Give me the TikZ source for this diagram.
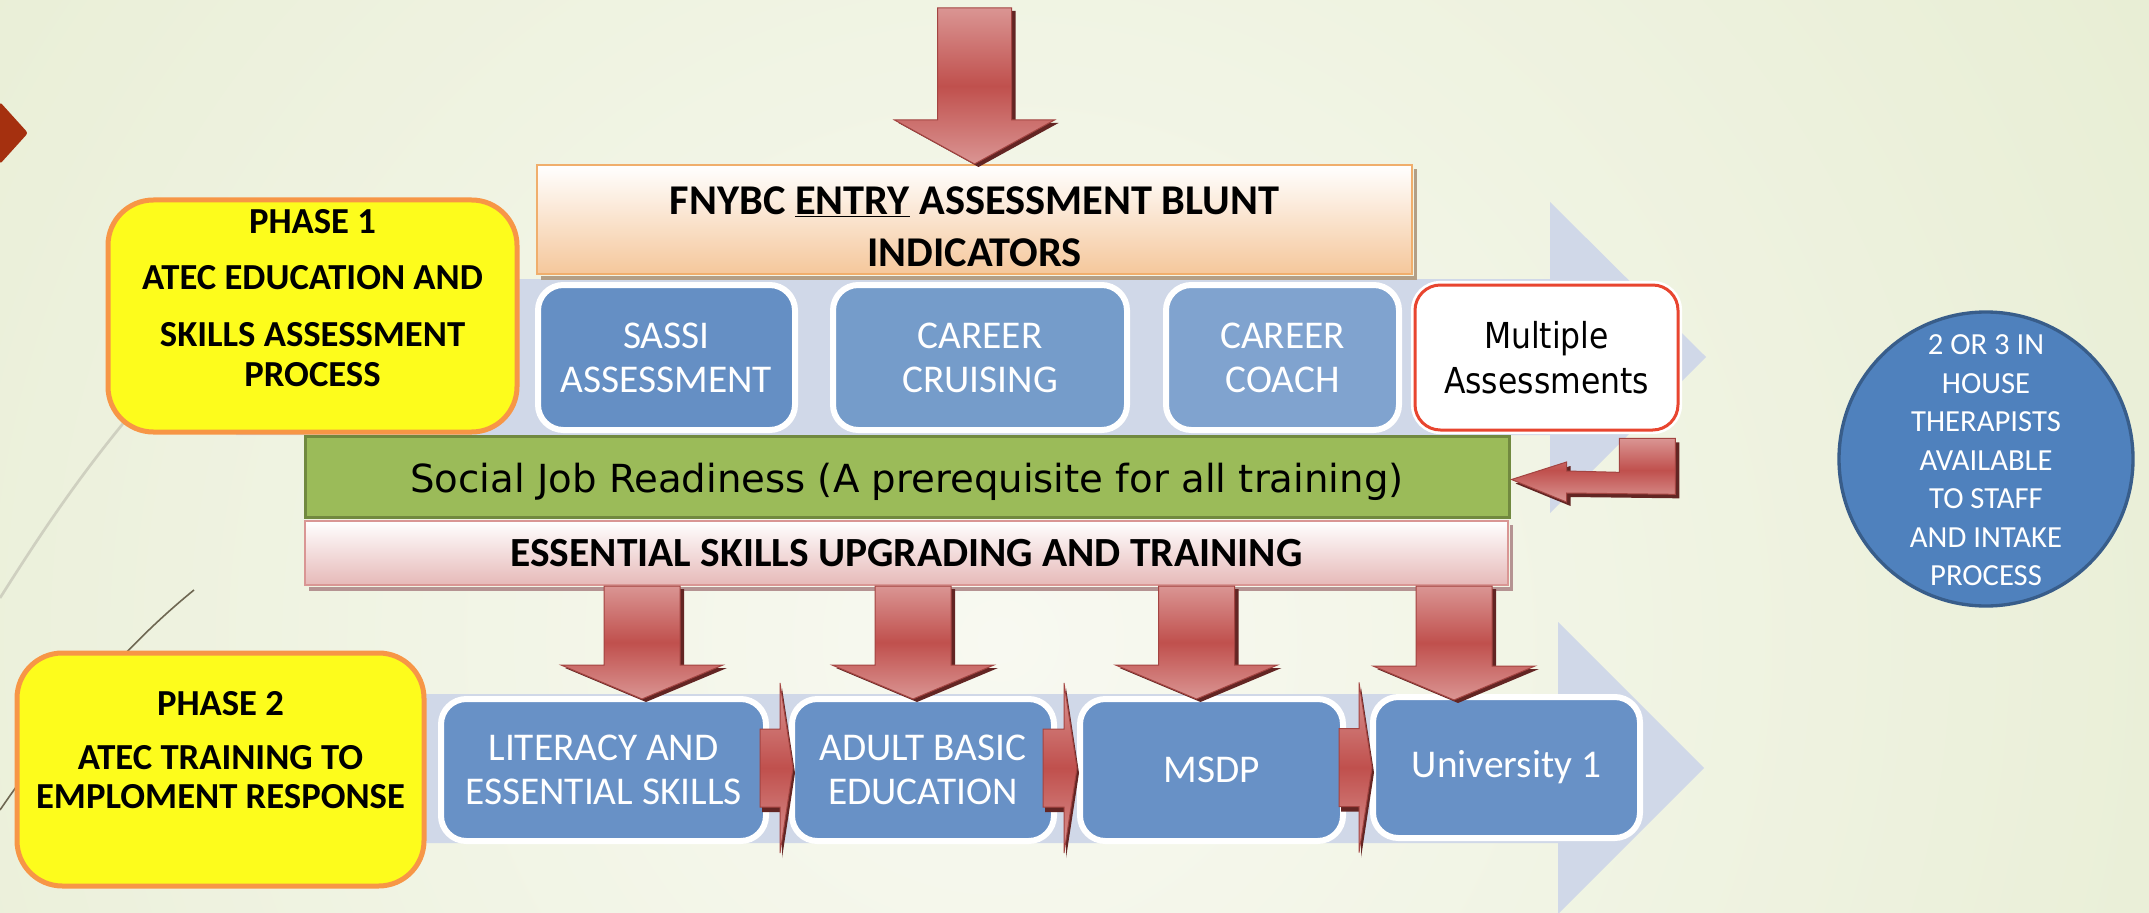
\documentclass[tikz,border=0pt]{standalone}
\usepackage{fontspec}
\setmainfont{Carlito}
\newfontfamily\tahoma{DejaVu Sans}[FakeStretch=0.88]
\newfontfamily\readyfont{DejaVu Sans}
\usetikzlibrary{calc}

\definecolor{bgin}{HTML}{F8F9F1}
\definecolor{bgout}{HTML}{E1E9C8}
\definecolor{decolight}{HTML}{CFD0C0}
\definecolor{decodark}{HTML}{6E6752}
\definecolor{slidered}{HTML}{A5300F}
\definecolor{flowbg}{HTML}{D0D8E8}
\definecolor{phaseyellow}{HTML}{FDFC1C}
\definecolor{phaseorange}{HTML}{F79646}
\definecolor{entrybottom}{HTML}{F5C79B}
\definecolor{entryline}{HTML}{F0AE6C}
\definecolor{entryshadow}{HTML}{B39F86}
\definecolor{bluea}{HTML}{658FC4}
\definecolor{blueb}{HTML}{759CCA}
\definecolor{bluec}{HTML}{80A3CF}
\definecolor{blued}{HTML}{6891C6}
\definecolor{multired}{HTML}{E8452F}
\definecolor{readygreen}{HTML}{9BBB59}
\definecolor{readyline}{HTML}{71893F}
\definecolor{essbottom}{HTML}{E6B9B8}
\definecolor{essline}{HTML}{D99694}
\definecolor{essshadow}{HTML}{B59392}
\definecolor{circfill}{HTML}{4F81BD}
\definecolor{circline}{HTML}{385D8A}
\definecolor{redlight}{HTML}{DA9593}
\definecolor{redmid}{HTML}{C0504D}
\definecolor{reddark}{HTML}{632523}

\tikzset{every picture/.style={line width=0.75pt}}
\tikzset{
  phasebox/.style={draw=phaseorange, line width=3.75pt, fill=phaseyellow, rounded corners=34pt},
  phasetext/.style={align=center, inner sep=0pt, font=\bfseries\fontsize{27.5}{29.5}\selectfont},
  entrybox/.style={draw=entryline, line width=1.5pt, top color=white, bottom color=entrybottom},
  entrytext/.style={align=center, inner sep=0pt, font=\bfseries\fontsize{31.8}{39}\selectfont},
  bluebox/.style={draw=white, line width=4.5pt, rounded corners=19pt, text=white, align=center, inner sep=0pt, font=\fontsize{29.5}{33}\selectfont},
  multibox/.style={draw=white, double=multired, double distance=2.25pt, line width=2pt, fill=white, rounded corners=19pt, align=center, inner sep=0pt, font=\tahoma\fontsize{26.8}{33.75}\selectfont},
  readybox/.style={draw=readyline, line width=2.25pt, fill=readygreen, inner sep=0pt, text height=26pt, text depth=2.75pt, font=\readyfont\fontsize{29}{35}\selectfont},
  essbox/.style={draw=essline, line width=1.5pt, top color=white, bottom color=essbottom, inner sep=0pt, font=\bfseries\fontsize{31.1}{36}\selectfont},
  therapist/.style={circle, draw=circline, line width=2.5pt, fill=circfill, inner sep=0pt},
  therapisttext/.style={align=center, inner sep=0pt, text=white, font=\fontsize{23}{28.9}\selectfont},
  redbody/.style={draw=redmid!85!black, line width=0.75pt, top color=redlight, bottom color=redlight, middle color=redmid},
  reddeep/.style={fill=reddark}
}

% block arrows: #1 start, #2 tip, #3 offset
\newcommand{\downshape}[3]{($(#1 -| #2)+(-\asw,0)+#3$) -- ($(#2)+(-\asw,-\ahl)+#3$) -- ($(#2)+(-\ahw,-\ahl)+#3$) -- ($(#2)+#3$) -- ($(#2)+(\ahw,-\ahl)+#3$) -- ($(#2)+(\asw,-\ahl)+#3$) -- ($(#1 -| #2)+(\asw,0)+#3$) -- cycle}
\newcommand{\rightshape}[3]{($(#1 |- #2)+(0,-\asw)+#3$) -- ($(#2)+(-\ahl,-\asw)+#3$) -- ($(#2)+(-\ahl,-\ahw)+#3$) -- ($(#2)+#3$) -- ($(#2)+(-\ahl,\ahw)+#3$) -- ($(#2)+(-\ahl,\asw)+#3$) -- ($(#1 |- #2)+(0,\asw)+#3$) -- cycle}
\newcommand{\bentshape}[1]{($(bendtop)+(-56,0)+#1$) -- ($(bendtop)+#1$) -- ($(bendtop)+(0,56)+#1$) -- ($(bendtip)+(55,13.5)+#1$) -- ($(bendtip)+(55,22.5)+#1$) -- ($(bendtip)+#1$) -- ($(bendtip)+(55,-17.5)+#1$) -- ($(bendtip)+(55,-8.5)+#1$) -- ($(bendtop)+(-56,34)+#1$) -- cycle}
\newcommand{\fatdown}[5]{%
  \def\asw{#3}\def\ahw{#4}\def\ahl{#5}%
  \fill[reddeep] \downshape{#1}{#2}{(4,3)};
  \shadedraw[redbody] \downshape{#1}{#2}{(0,0)};
}
\newcommand{\fatright}[5]{%
  \def\asw{#3}\def\ahw{#4}\def\ahl{#5}%
  \fill[reddeep] \rightshape{#1}{#2}{(2,5)};
  \shadedraw[redbody] \rightshape{#1}{#2}{(0,0)};
}

\begin{document}
\begin{tikzpicture}[x=0.75pt,y=0.75pt,yscale=-1,xscale=1]
\useasboundingbox (0,0) rectangle (2149,913);

%Background
\begin{scope}
\clip (0,0) rectangle (2149,913);
\shade[inner color=bgin, outer color=bgout] (1000,640) circle (1900);
\end{scope}
%Slide decoration
\draw[color=decolight, line width=2pt] (0,598) .. controls (40,535) and (85,465) .. (160,380);
\draw[color=decodark, line width=1.2pt] (194,590) .. controls (120,650) and (55,730) .. (0,810);
\fill[slidered, rounded corners=2pt] (0,102) -- (28,133) -- (0,164) -- cycle;

%Flow arrows behind the boxes
\fill[flowbg] (236,279) -- (1550,279) -- (1550,202) -- (1706,357) -- (1550,513) -- (1550,435) -- (236,435) -- cycle;
\fill[flowbg] (300,694) -- (1558,694) -- (1558,622) -- (1704,768) -- (1558,914) -- (1558,843) -- (300,843) -- cycle;

%Phase boxes
\node[phasebox, minimum width=306.75pt, minimum height=174pt] (phase1) at (312.5,316) {};
\node[phasetext, anchor=north] (phase1text) at ($(phase1.north)+(0,11)$) {PHASE 1\\[12.75pt]ATEC EDUCATION AND\\[13.5pt]SKILLS ASSESSMENT\\PROCESS};
\node[phasebox, minimum width=305.25pt, minimum height=174.75pt] (phase2) at (220.5,769.5) {};
\node[phasetext, anchor=north] (phase2text) at ($(phase2.north)+(0,40)$) {PHASE 2\\[11.25pt]ATEC TRAINING TO\\EMPLOMENT RESPONSE};

%Entry assessment
\node[entrybox, minimum width=656.25pt, minimum height=81.75pt] (fnybc) at (974.5,219.5) {};
\fill[entryshadow] ($(fnybc.south west)+(5,1)$) rectangle ($(fnybc.south east)+(4,5)$);
\fill[entryshadow] ($(fnybc.north east)+(1,5)$) rectangle ($(fnybc.south east)+(4,5)$);
\node[entrytext, anchor=north] (fnybctext) at ($(fnybc.north)+(0,22)$) {FNYBC \underline{ENTRY} ASSESSMENT BLUNT\\INDICATORS};

% Text Node
\node[bluebox, fill=bluea, minimum width=192.75pt, minimum height=108.75pt] (sassi) at (666.5,357.5) {SASSI\\ASSESSMENT};
\node[bluebox, fill=blueb, minimum width=220.5pt, minimum height=108.75pt] (cruise) at (980,357.5) {CAREER\\CRUISING};
\node[bluebox, fill=bluec, minimum width=174.75pt, minimum height=108.75pt] (coach) at (1282.5,357.5) {CAREER\\COACH};
\node[multibox, minimum width=197.25pt, minimum height=108.75pt] (multi) at (1546.5,357.5) {Multiple\\Assessments};

%Readiness and upgrading bars
\node[readybox, minimum width=903pt, minimum height=60.75pt] (ready) at (907,476.5) {Social Job Readiness (A prerequisite for all training)};
\node[essbox, minimum width=902.25pt, minimum height=48pt] (ess) at (906.5,553) {ESSENTIAL SKILLS UPGRADING AND TRAINING};
\fill[essshadow] ($(ess.south west)+(5,1)$) rectangle ($(ess.south east)+(4,5)$);
\fill[essshadow] ($(ess.north east)+(1,5)$) rectangle ($(ess.south east)+(4,5)$);

% Text Node
\node[bluebox, fill=blued, minimum width=243.75pt, minimum height=106.5pt] (lit) at (603.5,770) {LITERACY AND\\ESSENTIAL SKILLS};
\node[bluebox, fill=blued, minimum width=196.5pt, minimum height=106.5pt] (abe) at (923,770) {ADULT BASIC\\EDUCATION};
\node[bluebox, fill=blued, minimum width=197.25pt, minimum height=106.5pt] (msdp) at (1211.5,770) {MSDP};
\node[bluebox, fill=blued, minimum width=200.25pt, minimum height=105.75pt] (uni) at (1506.5,767.5) {University 1};

%Therapists
\node[therapist, minimum size=220.5pt] (therapy) at (1986,459) {};
\node[therapisttext, anchor=north] (therapytext) at ($(therapy.north)+(0,24)$) {2 OR 3 IN\\HOUSE\\THERAPISTS\\AVAILABLE\\TO STAFF\\AND INTAKE\\PROCESS};

%Red block arrows
\coordinate (entry) at (973,8);
\fatdown{entry}{fnybc.north}{37}{80}{44}
\coordinate (tipA) at ($(lit.north)+(38.5,3)$);
\coordinate (tipB) at ($(abe.north)+(-10,3)$);
\coordinate (tipC) at ($(msdp.north)+(-15,3)$);
\coordinate (tipD) at ($(uni.north)+(-52.5,6)$);
\fatdown{ess.south}{tipA}{38}{81}{34}
\fatdown{ess.south}{tipB}{38}{81}{34}
\fatdown{ess.south}{tipC}{38}{81}{34}
\fatdown{ess.south}{tipD}{38}{81}{34}

\coordinate (litout) at ($(lit.east)+(-9,0)$);
\coordinate (abein) at ($(abe.west)+(4,-2)$);
\coordinate (abeout) at ($(abe.east)+(-14,0)$);
\coordinate (msdpin) at ($(msdp.west)+(0,-2)$);
\coordinate (msdpout) at ($(msdp.east)+(-7,0)$);
\coordinate (uniin) at ($(uni.west)+(2,0)$);
\fatright{litout}{abein}{39}{85}{13}
\fatright{abeout}{msdpin}{39}{85}{13}
\fatright{msdpout}{uniin}{39}{85}{13}

\coordinate (bendtop) at ($(multi.south east)+(-4,7)$);
\coordinate (bendtip) at ($(ready.east)+(1,3)$);
\fill[reddeep] \bentshape{(4,4)};
\shadedraw[redbody] \bentshape{(0,0)};

\end{tikzpicture}
\end{document}
